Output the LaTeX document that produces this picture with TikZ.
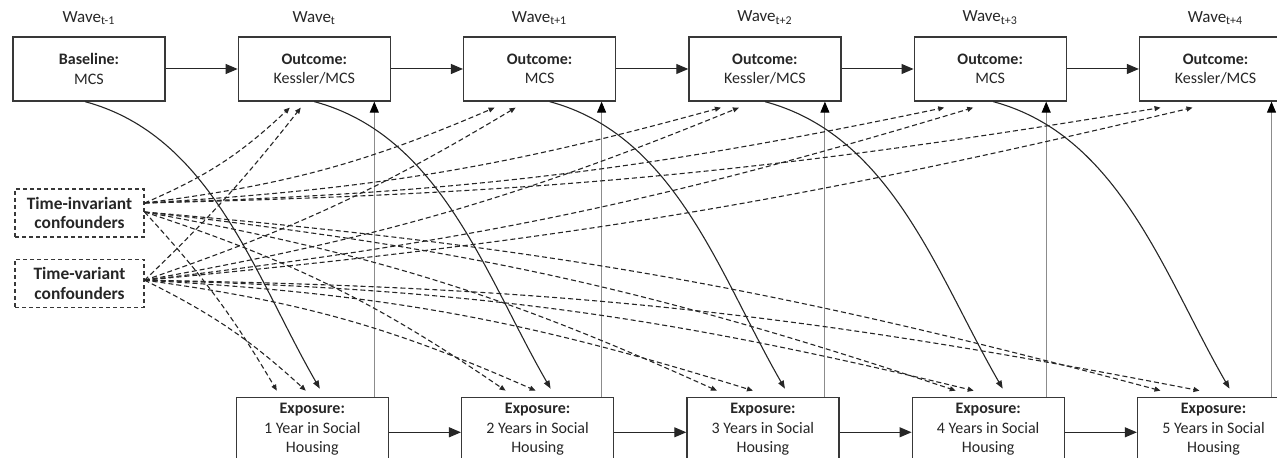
\documentclass[tikz,border=0pt]{standalone}
\usepackage{fontspec}
\setmainfont{Carlito}
\usepackage{xcolor}
\usetikzlibrary{arrows.meta, positioning}
\definecolor{boxgray}{gray}{0.22}
\definecolor{txtgray}{gray}{0.15}
\definecolor{linegray}{gray}{0.55}
\tikzset{
  wavebox/.style={rectangle, draw=boxgray, line width=0.65pt,
    minimum width=76pt, minimum height=32pt, inner sep=0pt,
    align=center, text=txtgray, font=\fontsize{8}{9.7}\selectfont},
  confbox/.style={rectangle, draw=boxgray, dash pattern=on 2pt off 1.5pt, line width=0.6pt,
    minimum width=64.5pt, minimum height=24pt, inner sep=0pt,
    align=center, text=txtgray, font=\bfseries\fontsize{8.7}{9.8}\selectfont},
  wavelabel/.style={text=txtgray, font=\fontsize{8.5}{10}\selectfont},
  flow/.style={line width=0.5pt, draw=black!85, -{Triangle[length=6pt,width=5pt]}},
  lag/.style={line width=0.55pt, draw=black!85, -{Triangle[length=4pt,width=3pt]}},
  effect/.style={line width=0.5pt, draw=linegray, -{Triangle[length=5.5pt,width=4.5pt,color=black]}},
  conf/.style={line width=0.55pt, draw=black!85, dash pattern=on 2.5pt off 1.5pt,
    -{Triangle[length=3pt,width=2.5pt]}}
}
\begin{document}
\begin{tikzpicture}[x=0.5pt, y=0.5pt]
    \useasboundingbox (0,0) rectangle (1277,458);

    % Nodos
    \node (base) [wavebox] at (89,389) {\textbf{Baseline:}\\MCS};
    \node (out1) [wavebox, right=36pt of base] {\textbf{Outcome:}\\Kessler/MCS};
    \node (out2) [wavebox, right=36pt of out1] {\textbf{Outcome:}\\MCS};
    \node (out3) [wavebox, right=36pt of out2] {\textbf{Outcome:}\\Kessler/MCS};
    \node (out4) [wavebox, right=36pt of out3] {\textbf{Outcome:}\\MCS};
    \node (out5) [wavebox, right=36pt of out4] {\textbf{Outcome:}\\Kessler/MCS};

    \node [wavelabel, above=2.5pt of base] {Wave\textsubscript{t-1}};
    \node [wavelabel, above=2.5pt of out1] {Wave\textsubscript{t}};
    \node [wavelabel, above=2.5pt of out2] {Wave\textsubscript{t+1}};
    \node [wavelabel, above=2.5pt of out3] {Wave\textsubscript{t+2}};
    \node [wavelabel, above=2.5pt of out4] {Wave\textsubscript{t+3}};
    \node [wavelabel, above=2.5pt of out5] {Wave\textsubscript{t+4}};

    \node (exp1) [wavebox, below=147.5pt of out1, xshift=-1pt] {\textbf{Exposure:}\\1 Year in Social\\Housing};
    \node (exp2) [wavebox, right=36pt of exp1] {\textbf{Exposure:}\\2 Years in Social\\Housing};
    \node (exp3) [wavebox, right=36pt of exp2] {\textbf{Exposure:}\\3 Years in Social\\Housing};
    \node (exp4) [wavebox, right=36pt of exp3] {\textbf{Exposure:}\\4 Years in Social\\Housing};
    \node (exp5) [wavebox, right=36pt of exp4] {\textbf{Exposure:}\\5 Years in Social\\Housing};

    \node (inv) [confbox] at (79.5,245) {Time-invariant\\confounders};
    \node (var) [confbox, below=10.5pt of inv] {Time-variant\\confounders};
    \coordinate (invup) at ([yshift=5pt]inv.east);
    \coordinate (invdn) at ([yshift=0.5pt]inv.east);
    \coordinate (varsrc) at ([yshift=1.5pt]var.east);

    % Conexiones
    \draw [flow] (base) -- (out1);
    \draw [flow] (out1) -- (out2);
    \draw [flow] (out2) -- (out3);
    \draw [flow] (out3) -- (out4);
    \draw [flow] (out4) -- (out5);
    \draw [flow] ([yshift=-1.5pt]exp1.east) -- ([yshift=-1.5pt]exp2.west);
    \draw [flow] ([yshift=-1.5pt]exp2.east) -- ([yshift=-1.5pt]exp3.west);
    \draw [flow] ([yshift=-1.5pt]exp3.east) -- ([yshift=-1.5pt]exp4.west);
    \draw [flow] ([yshift=-1.5pt]exp4.east) -- ([yshift=-1.5pt]exp5.west);

    \draw [effect] ([xshift=30pt]out1.south |- exp1.north) -- ([xshift=30pt]out1.south);
    \draw [effect] ([xshift=31pt]out2.south |- exp2.north) -- ([xshift=31pt]out2.south);
    \draw [effect] ([xshift=30pt]out3.south |- exp3.north) -- ([xshift=30pt]out3.south);
    \draw [effect] ([xshift=28pt]out4.south |- exp4.north) -- ([xshift=28pt]out4.south);
    \draw [effect] ([xshift=28pt]out5.south |- exp5.north) -- ([xshift=28pt]out5.south);

    \draw [lag] ([xshift=-2pt]base.south) to[out=-15, in=120, looseness=0.9] ([xshift=3.75pt, yshift=4pt]exp1.north);
    \draw [lag] (out1.south) to[out=-15, in=120, looseness=0.9] ([xshift=6.5pt, yshift=4pt]exp2.north);
    \draw [lag] ([xshift=5pt]out2.south) to[out=-15, in=120, looseness=0.9] ([xshift=11pt, yshift=4pt]exp3.north);
    \draw [lag] (out3.south) to[out=-15, in=120, looseness=0.9] ([xshift=7.25pt, yshift=4pt]exp4.north);
    \draw [lag] ([xshift=1.5pt]out4.south) to[out=-15, in=120, looseness=0.9] ([xshift=8pt, yshift=4pt]exp5.north);

    \draw [conf] (invup) to[bend right=10] ([xshift=-12.25pt, yshift=-3pt]out1.south);
    \draw [conf] (invup) to[bend right=8] ([xshift=-22.5pt, yshift=-3pt]out2.south);
    \draw [conf] (invup) to[bend right=6] ([xshift=-22pt, yshift=-3pt]out3.south);
    \draw [conf] (invup) to[bend right=5] ([xshift=-23pt, yshift=-3pt]out4.south);
    \draw [conf] (invup) to[bend right=4] ([xshift=-27.5pt, yshift=-3pt]out5.south);
    \draw [conf] (varsrc) to[bend right=4] ([xshift=-6.75pt, yshift=-3pt]out1.south);
    \draw [conf] (varsrc) to[bend right=6] ([xshift=-12pt, yshift=-3pt]out2.south);
    \draw [conf] (varsrc) to[bend right=6] ([xshift=-13pt, yshift=-3pt]out3.south);
    \draw [conf] (varsrc) to[bend right=5] ([xshift=-8.5pt, yshift=-3pt]out4.south);
    \draw [conf] (varsrc) to[bend right=4] ([xshift=-11.5pt, yshift=-3pt]out5.south);

    \draw [conf] (invdn) to[bend left=6] ([xshift=-17.75pt, yshift=3pt]exp1.north);
    \draw [conf] (invdn) to[bend left=8] ([xshift=-16pt, yshift=3pt]exp2.north);
    \draw [conf] (invdn) to[bend left=7] ([xshift=-23pt, yshift=3pt]exp3.north);
    \draw [conf] (invdn) to[bend left=6] ([xshift=-16.25pt, yshift=3pt]exp4.north);
    \draw [conf] (invdn) to[bend left=5] ([xshift=-26.5pt, yshift=3pt]exp5.north);
    \draw [conf] (varsrc) to[bend left=8] ([xshift=-3.25pt, yshift=3pt]exp1.north);
    \draw [conf] (varsrc) to[bend left=8] ([xshift=-1pt, yshift=3pt]exp2.north);
    \draw [conf] (varsrc) to[bend left=7] ([xshift=-5pt, yshift=3pt]exp3.north);
    \draw [conf] (varsrc) to[bend left=6] ([xshift=-7.25pt, yshift=3pt]exp4.north);
    \draw [conf] (varsrc) to[bend left=5] ([xshift=-7pt, yshift=3pt]exp5.north);

\end{tikzpicture}
\end{document}
